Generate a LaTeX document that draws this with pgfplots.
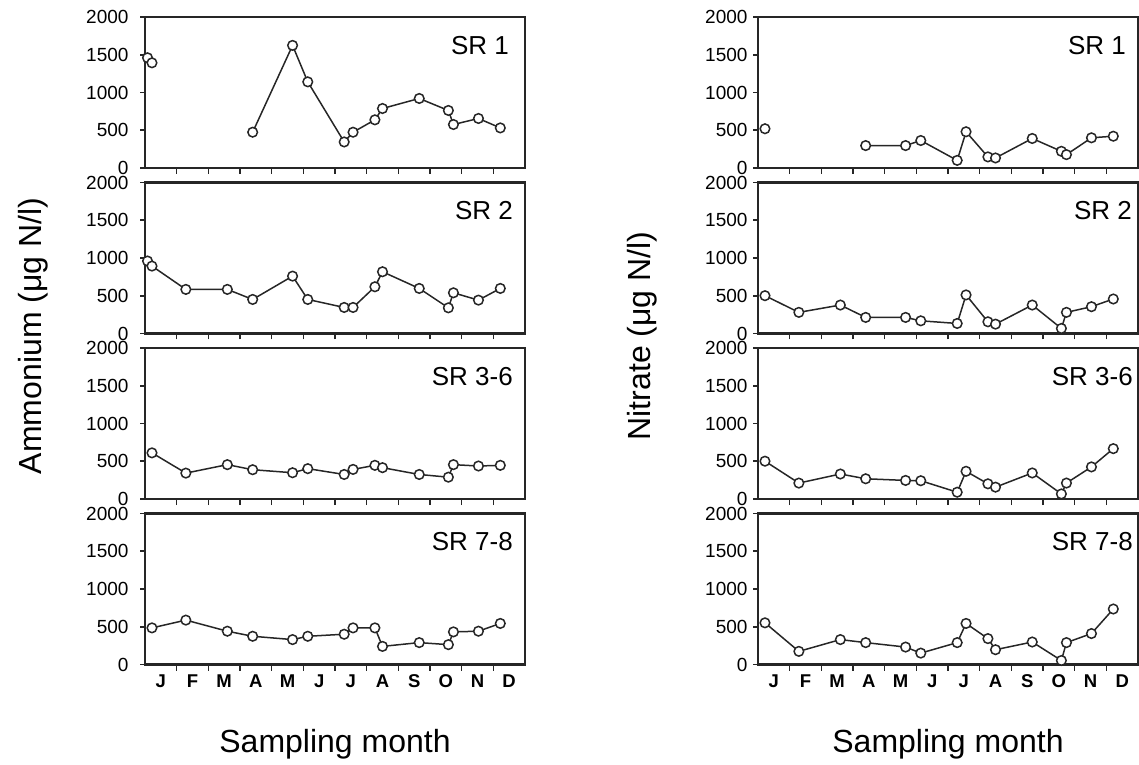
\documentclass[border=0pt]{standalone}
\usepackage{fontspec}
\setmainfont{Liberation Sans}
\usepackage{pgfplots}
\pgfplotsset{compat=1.18}
\pgfplotsset{
  panel/.style={
    scale only axis, width=380pt, height=151pt, anchor=south west,
    xmin=0, xmax=12, ymin=0, ymax=2000,
    axis on top,
    axis line style={line width=2.6pt, black!85},
    ytick={0,500,1000,1500,2000},
    xtick={0.5,1.5,...,11.5},
    xticklabels={},
    minor xtick={1,2,...,11},
    tick align=outside,
    xtick pos=bottom, ytick pos=left,
    major tick length=5pt, minor tick length=6pt,
    every tick/.style={black!85, line width=1.6pt},
    major x tick style={draw=none},
    /pgf/number format/assume math mode=true,
    /pgf/number format/1000 sep={},
    yticklabel style={font=\fontsize{19}{21}\selectfont, xshift=-2pt},
    xticklabel style={font=\fontsize{18.5}{20}\selectfont\bfseries, yshift=-2pt},
  },
  leftpanel/.style={panel, yticklabel style={xshift=-6pt}},
  dat/.style={black!85, line width=1.5pt, mark=*, mark size=4.8pt,
    mark options={fill=white, draw=black!85, line width=1.5pt}},
}
\newcommand{\srlabel}[2]{\node[anchor=north east, inner sep=0pt,
  font=\fontsize{26}{28}\selectfont] at (rel axis cs:1,1) [xshift=#2, yshift=-19pt] {#1};}
\begin{document}
\begin{tikzpicture}
\useasboundingbox (0,0) rectangle (1139pt,764pt);
% ---------------- Left column: Ammonium ----------------
\begin{axis}[leftpanel, at={(145pt,596pt)}]
\addplot[dat] coordinates {(0.08,1460) (0.22,1393)};
\addplot[dat] coordinates {(3.4,474) (4.66,1624) (5.14,1141) (6.29,345) (6.57,474) (7.26,638) (7.5,788) (8.66,921) (9.58,762) (9.74,576) (10.53,656) (11.22,531)};
\srlabel{SR 1}{-16pt}
\end{axis}
\begin{axis}[leftpanel, at={(145pt,430.5pt)}]
\addplot[dat] coordinates {(0.08,960) (0.22,893) (1.29,584) (2.6,584) (3.4,451) (4.66,760) (5.14,451) (6.29,345) (6.57,345) (7.26,619) (7.5,818) (8.66,597) (9.58,340) (9.74,539) (10.53,442) (11.22,597)};
\srlabel{SR 2}{-12pt}
\end{axis}
\begin{axis}[leftpanel, at={(145pt,265pt)}]
\addplot[dat] coordinates {(0.22,611) (1.29,343) (2.6,455) (3.4,388) (4.66,348) (5.14,402) (6.29,325) (6.57,392) (7.26,446) (7.5,415) (8.66,325) (9.58,289) (9.74,455) (10.53,437) (11.22,446)};
\srlabel{SR 3-6}{-12pt}
\end{axis}
\begin{axis}[leftpanel, at={(145pt,99.5pt)}, xticklabels={J,F,M,A,M,J,J,A,S,O,N,D}]
\addplot[dat] coordinates {(0.22,485) (1.29,588) (2.6,441) (3.4,374) (4.66,330) (5.14,374) (6.29,401) (6.57,485) (7.26,485) (7.5,240) (8.66,290) (9.58,263) (9.74,432) (10.53,441) (11.22,544)};
\srlabel{SR 7-8}{-12pt}
\end{axis}
% ---------------- Right column: Nitrate ----------------
\begin{axis}[panel, at={(758pt,596pt)}]
\addplot[dat] coordinates {(0.22,520)};
\addplot[dat] coordinates {(3.4,297) (4.66,297) (5.14,364) (6.29,101) (6.57,480) (7.26,147) (7.5,133) (8.66,391) (9.58,221) (9.74,177) (10.53,400) (11.22,421)};
\srlabel{SR 1}{-12pt}
\end{axis}
\begin{axis}[panel, at={(758pt,430.5pt)}]
\addplot[dat] coordinates {(0.22,501) (1.29,280) (2.6,377) (3.4,213) (4.66,213) (5.14,168) (6.29,133) (6.57,511) (7.26,155) (7.5,124) (8.66,377) (9.58,67) (9.74,280) (10.53,355) (11.22,457)};
\srlabel{SR 2}{-6pt}
\end{axis}
\begin{axis}[panel, at={(758pt,265pt)}]
\addplot[dat] coordinates {(0.22,501) (1.29,211) (2.6,331) (3.4,268) (4.66,246) (5.14,242) (6.29,90) (6.57,367) (7.26,201) (7.5,157) (8.66,345) (9.58,67) (9.74,211) (10.53,425) (11.22,667)};
\srlabel{SR 3-6}{-5pt}
\end{axis}
\begin{axis}[panel, at={(758pt,99.5pt)}, xticklabels={J,F,M,A,M,J,J,A,S,O,N,D}]
\addplot[dat] coordinates {(0.22,552) (1.29,174) (2.6,330) (3.4,290) (4.66,231) (5.14,151) (6.29,290) (6.57,544) (7.26,343) (7.5,196) (8.66,298) (9.58,53) (9.74,290) (10.53,410) (11.22,735)};
\srlabel{SR 7-8}{-5pt}
\end{axis}
% ---------------- Axis titles ----------------
\node[rotate=90, font=\fontsize{32}{34}\selectfont] at (33pt,428pt) {Ammonium (μg N/l)};
\node[rotate=90, font=\fontsize{32}{34}\selectfont] at (642pt,428pt) {Nitrate (μg N/l)};
\node[anchor=base, font=\fontsize{32}{34}\selectfont] at (335pt,12pt) {Sampling month};
\node[anchor=base, font=\fontsize{32}{34}\selectfont] at (948pt,12pt) {Sampling month};
\end{tikzpicture}
\end{document}
